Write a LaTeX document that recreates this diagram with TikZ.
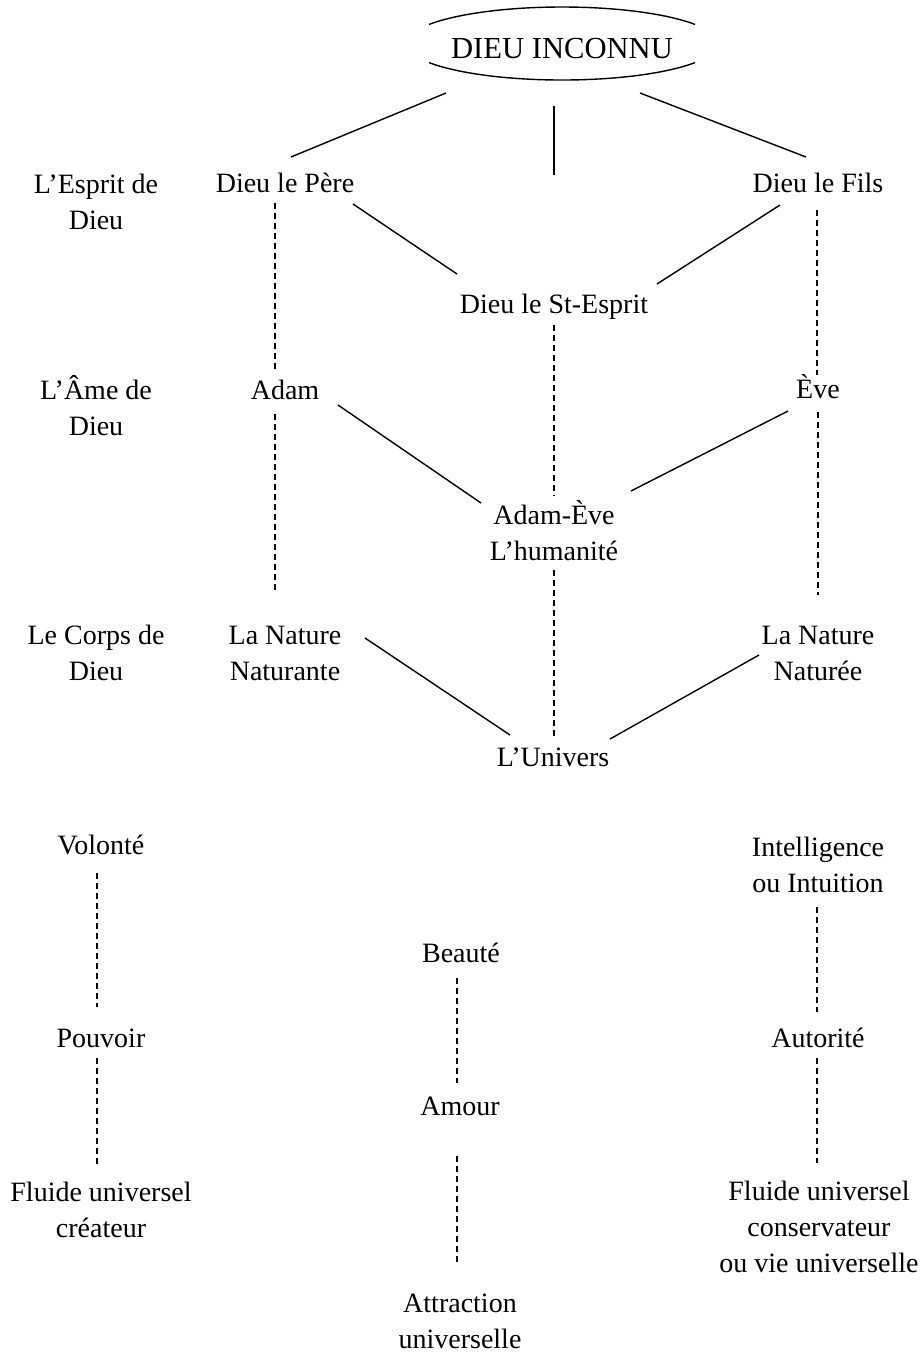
\documentclass[tikz,border=0pt]{standalone}
\usepackage{fontspec}
\setmainfont{Liberation Serif}
\tikzset{
  lbl/.style={inner sep=0pt, anchor=base, align=center, font=\fontsize{14}{18}\selectfont},
  titre/.style={inner sep=0pt, anchor=base, font=\fontsize{15.3}{18}\selectfont},
  lien/.style={line width=0.7pt},
  pointill/.style={line width=0.7pt, dash pattern=on 3pt off 2pt},
}
\begin{document}
\begin{tikzpicture}[x=0.5pt, y=-0.5pt]
  \useasboundingbox (0,0) rectangle (922,1357);
  \node[titre] (dieu) at (562,58) {DIEU INCONNU};
  \begin{scope}
    \clip (429,0) rectangle (695,100);
    \draw[lien] ([shift={(0,-14.5)}]dieu.base) ellipse [x radius=78pt, y radius=18.25pt];
  \end{scope}
  \node[lbl] (esprit) at (96,229) {L’Esprit de\\Dieu};
  \node[lbl] (pere) at (285,192) {Dieu le Père};
  \node[lbl] (fils) at (818,192) {Dieu le Fils};
  \coordinate (milieu) at (554,175);
  \node[lbl] (stesprit) at (554,313) {Dieu le St-Esprit};
  \node[lbl] (ame) at (96,435) {L’Âme de\\Dieu};
  \node[lbl] (adam) at (285,399) {Adam};
  \node[lbl] (eve) at (818,398) {Ève};
  \node[lbl] (adameve) at (554,560) {Adam-Ève\\L’humanité};
  \node[lbl] (corps) at (96,680) {Le Corps de\\Dieu};
  \node[lbl] (naturante) at (285,680) {La Nature\\Naturante};
  \node[lbl] (naturee) at (818,680) {La Nature\\Naturée};
  \node[lbl] (univers) at (553,766) {L’Univers};
  \node[lbl] (volonte) at (101,854) {Volonté};
  \node[lbl] (pouvoir) at (101,1047) {Pouvoir};
  \node[lbl] (fluidecr) at (101,1237) {Fluide universel\\créateur};
  \node[lbl] (beaute) at (461,962) {Beauté};
  \node[lbl] (amour) at (460,1115) {Amour};
  \node[lbl] (attraction) at (460,1348) {Attraction\\universelle};
  \node[lbl] (intel) at (818,892) {Intelligence\\ou Intuition};
  \node[lbl] (autorite) at (818,1047) {Autorité};
  \node[lbl] (fluideco) at (819,1272) {Fluide universel\\conservateur\\ou vie universelle};

  \draw[lien] ([shift={(-116,35)}]dieu.base) -- ([shift={(6,-35)}]pere.base);
  \draw[lien] ([shift={(-8,48)}]dieu.base) -- (milieu);
  \draw[lien] ([shift={(78,35)}]dieu.base) -- ([shift={(-12,-35)}]fils.base);
  \draw[lien] ([shift={(68,12)}]pere.base) -- ([shift={(-97,-39)}]stesprit.base);
  \draw[lien] ([shift={(-38,13)}]fils.base) -- ([shift={(103,-29)}]stesprit.base);
  \draw[lien] ([shift={(53,6)}]adam.base) -- ([shift={(-73,-57)}]adameve.base);
  \draw[lien] ([shift={(-30,13)}]eve.base) -- ([shift={(77,-69)}]adameve.base);
  \draw[lien] ([shift={(80,-42)}]naturante.base) -- ([shift={(-43,-31)}]univers.base);
  \draw[lien] ([shift={(-59,-25)}]naturee.base) -- ([shift={(57,-27)}]univers.base);

  \draw[pointill] ([shift={(-10,11)}]pere.base) -- ([shift={(-10,-27)}]adam.base);
  \draw[pointill] ([shift={(-1,18)}]fils.base) -- ([shift={(-1,-23)}]eve.base);
  \draw[pointill] ([shift={(0,12)}]stesprit.base) -- ([shift={(0,-64)}]adameve.base);
  \draw[pointill] ([shift={(-10,15)}]adam.base) -- ([shift={(-10,-90)}]naturante.base);
  \draw[pointill] ([shift={(0,14)}]eve.base) -- ([shift={(0,-85)}]naturee.base);
  \draw[pointill] ([shift={(0,10)}]adameve.base) -- ([shift={(1,-28)}]univers.base);
  \draw[pointill] ([shift={(-4,19)}]volonte.base) -- ([shift={(-4,-40)}]pouvoir.base);
  \draw[pointill] ([shift={(-4,11)}]pouvoir.base) -- ([shift={(-4,-72)}]fluidecr.base);
  \draw[pointill] ([shift={(-4,16)}]beaute.base) -- ([shift={(-3,-32)}]amour.base);
  \draw[pointill] ([shift={(-3,41)}]amour.base) -- ([shift={(-3,-86)}]attraction.base);
  \draw[pointill] ([shift={(-1,15)}]intel.base) -- ([shift={(-1,-35)}]autorite.base);
  \draw[pointill] ([shift={(-1,11)}]autorite.base) -- ([shift={(-2,-109)}]fluideco.base);
\end{tikzpicture}
\end{document}
